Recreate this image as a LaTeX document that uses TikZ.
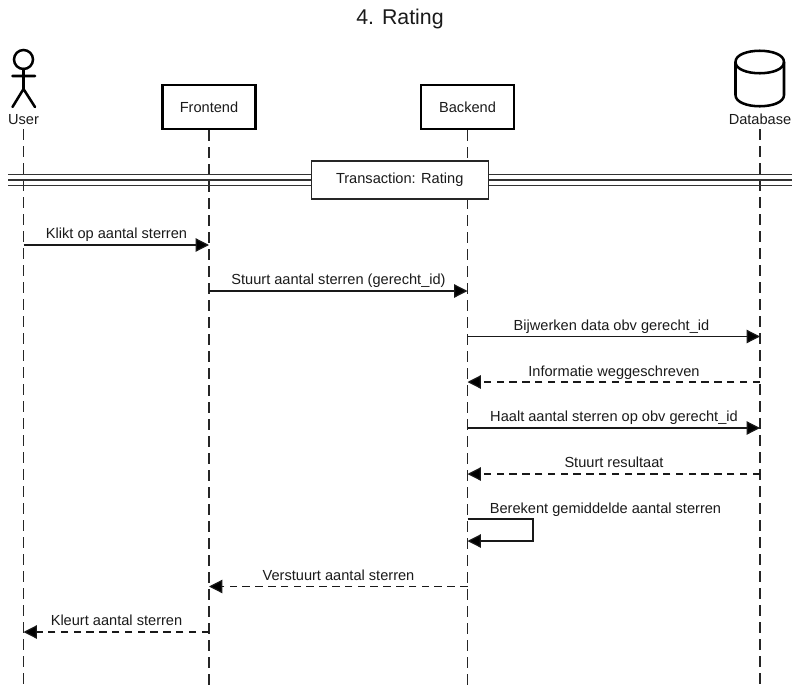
\documentclass[tikz,border=0pt]{standalone}
\usepackage{fontspec}
\setmainfont{Liberation Sans}
\usetikzlibrary{arrows.meta}
\definecolor{ink}{HTML}{000000}
\definecolor{txt}{HTML}{1A1A1A}
\tikzset{
  x=0.75pt,y=-0.75pt,
  lbl/.style={font=\fontsize{10.95}{12}\selectfont,text=txt,inner sep=0pt,anchor=base},
  headbox/.style={draw=ink,line width=1.9pt,fill=white,minimum width=70pt,minimum height=33pt,inner sep=0pt,font=\fontsize{10.95}{12}\selectfont,text=txt},
  life/.style={draw=ink!85,line width=0.9pt,dash pattern=on 8.25pt off 4.5pt},
  msg/.style={draw=ink!90,line width=0.9pt,-{Triangle[length=10pt,width=10pt,fill=black]}},
  ret/.style={msg,dash pattern=on 5.6pt off 4pt},
  thick3/.style={draw=ink!80,line width=0.9pt},
  figure/.style={draw=black,line width=1.9pt,line cap=round},
}
\begin{document}
\begin{tikzpicture}
\useasboundingbox (0,0) rectangle (800,689);
\node[font=\fontsize{16}{18}\selectfont,text=txt,inner sep=0pt] (title) at (400,19) {4. Rating};
% heads
\node[headbox] (front) at (209,107) {Frontend};
\node[headbox] (back) at (467.5,107) {Backend};
\node[lbl] (user) at (23.5,124) {User};
\node[lbl] (db) at (760,124) {Database};
% actor
\coordinate (uhead) at (23.5,59.5);
\draw[figure] (uhead) circle (9.5);
\draw[figure] (23.5,69) -- (23.5,89) (12.5,76) -- (35,76) (23.5,89) -- (12.5,107) (23.5,89) -- (35,107);
% cylinder
\draw[figure,fill=white] (735.5,62) .. controls (735.5,47) and (784,47) .. (784,62) -- (784,95)
  .. controls (784,110) and (735.5,110) .. (735.5,95) -- cycle;
\draw[figure] (735.5,62) .. controls (735.5,77) and (784,77) .. (784,62);
% lifeline ends
\coordinate (uend) at (23.5,689);
\coordinate (fend) at (209,689);
\coordinate (bend) at (467.5,689);
\coordinate (dend) at (760,689);
\coordinate (ustart) at (23.5,129);
\coordinate (dstart) at (760,129);
\draw[life] (ustart) -- (uend);
\draw[life] (front.south) -- (fend);
\draw[life] (back.south) -- (bend);
\draw[life] (dstart) -- (dend);
% transaction band
\coordinate (bl) at (8,180);
\coordinate (br) at (791.5,180);
\draw[thick3] ([yshift=4.1pt]bl) -- ([yshift=4.1pt]br);
\draw[thick3] (bl) -- (br);
\draw[thick3] ([yshift=-4.1pt]bl) -- ([yshift=-4.1pt]br);
\node[draw=ink!85,line width=0.9pt,fill=white,minimum width=132.75pt,minimum height=28.5pt,inner sep=0pt,font=\fontsize{10.95}{12}\selectfont,text=txt] (trans) at (399.7,180) {Transaction: Rating};
% message anchor coordinates
\foreach \n/\y in {1/245,2/291,3/336.5,4/382,5/428,6/474,7/519,8/541,9/586.5,10/632}{
  \coordinate (u\n) at (23.5,\y);
  \coordinate (f\n) at (209,\y);
  \coordinate (b\n) at (467.5,\y);
  \coordinate (d\n) at (760,\y);
}
\draw[msg] (u1) -- (f1);
\node[lbl] (m1) at (116.5,238) {Klikt op aantal sterren};
\draw[msg] (f2) -- (b2);
\node[lbl] (m2) at (338.5,284) {Stuurt aantal sterren (gerecht\_id)};
\draw[msg] (b3) -- (d3);
\node[lbl] (m3) at (611.5,330) {Bijwerken data obv gerecht\_id};
\draw[ret] (d4) -- (b4);
\node[lbl] (m4) at (614,376) {Informatie weggeschreven};
\draw[msg] (b5) -- (d5);
\node[lbl] (m5) at (614,421) {Haalt aantal sterren op obv gerecht\_id};
\draw[ret] (d6) -- (b6);
\node[lbl] (m6) at (614,467) {Stuurt resultaat};
\coordinate (sa) at (533,519);
\coordinate (sb) at (533,541);
\draw[msg] (b7) -- (sa) -- (sb) -- (b8);
\node[lbl] (m7) at (605.5,513) {Berekent gemiddelde aantal sterren};
\draw[ret] (b9) -- (f9);
\node[lbl] (m8) at (338.5,580) {Verstuurt aantal sterren};
\draw[ret] (f10) -- (u10);
\node[lbl] (m9) at (116.5,625) {Kleurt aantal sterren};
\end{tikzpicture}
\end{document}
